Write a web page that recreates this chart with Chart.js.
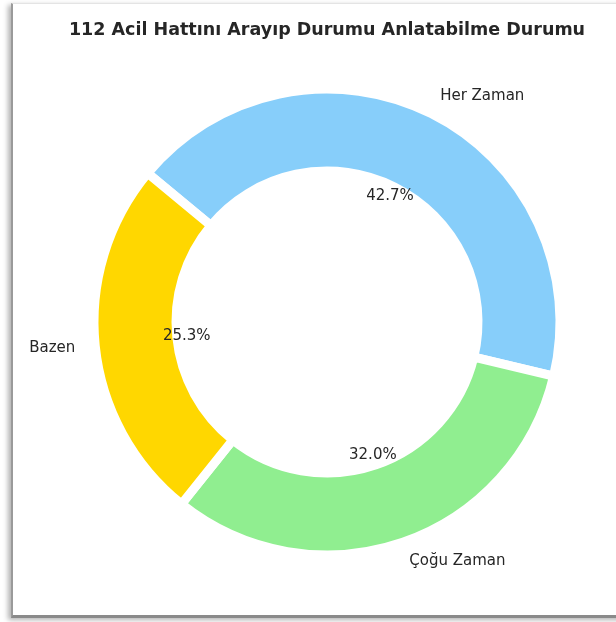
<!DOCTYPE html>
<html>
<head>
<meta charset="utf-8">
<script src="https://cdn.jsdelivr.net/npm/chart.js@4/dist/chart.umd.min.js"></script>
<style>
  html, body { margin: 0; padding: 0; background: #ffffff; }
  #wrap { position: relative; width: 616px; height: 622px; overflow: hidden; background: #fff; }
  #frame {
    position: absolute; left: 11px; top: 3px; width: 640px; height: 611px;
    border-left: 2px solid #9a9a9a; border-bottom: 3px solid #8a8a8a; border-top: 1px solid #e4e4e4;
    box-shadow: -3px 2px 5px rgba(0,0,0,0.30);
    background: #fff;
  }
  #c { position: absolute; left: 0; top: 0; }
</style>
</head>
<body>
<div id="wrap">
  <div id="frame"></div>
  <canvas id="c" width="616" height="622"></canvas>
</div>
<script>
const titleText = '112 Acil Hattını Arayıp Durumu Anlatabilme Durumu';
const categories = ['Her Zaman', 'Çoğu Zaman', 'Bazen'];
const percentages = [42.7, 32.0, 25.3];
const sliceColors = ['#87CEFA', '#90EE90', '#FFD700'];

const FONT = "'DejaVu Sans', 'Liberation Sans', sans-serif";

const labelPlugin = {
  id: 'pieLabels',
  afterDatasetsDraw(chart) {
    const ctx = chart.ctx;
    const meta = chart.getDatasetMeta(0);
    const data = chart.data.datasets[0].data;
    ctx.save();
    ctx.fillStyle = '#262626';
    ctx.font = '15px ' + FONT;
    ctx.textBaseline = 'middle';
    meta.data.forEach((el, i) => {
      const p = el.getProps(['x', 'y', 'startAngle', 'endAngle', 'outerRadius'], true);
      const mid = (p.startAngle + p.endAngle) / 2;
      const cx = Math.cos(mid), cy = Math.sin(mid);
      // category label outside
      const lr = p.outerRadius * 1.086;
      ctx.textAlign = cx >= 0 ? 'left' : 'right';
      ctx.fillText(chart.data.labels[i], p.x + cx * lr, p.y + cy * lr);
      // percentage label
      const pr = p.outerRadius * 0.605;
      ctx.textAlign = 'center';
      ctx.fillText(Number(data[i]).toFixed(1) + '%', p.x + cx * pr, p.y + cy * pr);
    });
    ctx.restore();
  }
};

new Chart(document.getElementById('c'), {
  type: 'doughnut',
  data: {
    labels: categories,
    datasets: [{
      data: percentages,
      backgroundColor: sliceColors,
      borderColor: '#ffffff',
      borderWidth: 9,
      hoverOffset: 0
    }]
  },
  options: {
    responsive: false,
    devicePixelRatio: 1,
    animation: false,
    rotation: -50.3,
    radius: 233,
    cutout: '64.8%',
    layout: { padding: { left: 38, right: 0, top: 0, bottom: 38 } },
    plugins: {
      legend: { display: false },
      tooltip: { enabled: false },
      title: {
        display: true,
        text: titleText,
        color: '#262626',
        font: { family: FONT, size: 17.5, weight: 'bold', lineHeight: 1.2 },
        padding: { top: 20, bottom: 19 }
      }
    }
  },
  plugins: [labelPlugin]
});
</script>
</body>
</html>
